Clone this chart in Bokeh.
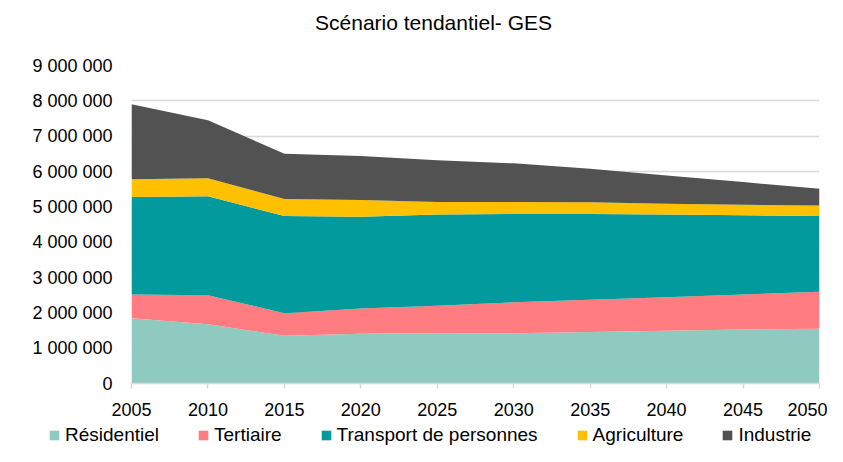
from bokeh.plotting import figure
from bokeh.layouts import column, row
from bokeh.models import ColumnDataSource, FixedTicker, Legend, LegendItem, Range1d, Label
from bokeh.embed import file_html
from bokeh.resources import INLINE

years = [2005, 2010, 2015, 2020, 2025, 2030, 2035, 2040, 2045, 2050]
residentiel = [1850000, 1680000, 1350000, 1410000, 1420000, 1420000, 1460000, 1490000, 1530000, 1550000]
tertiaire = [670000, 820000, 640000, 710000, 780000, 880000, 910000, 950000, 990000, 1050000]
transport = [2760000, 2800000, 2750000, 2600000, 2580000, 2500000, 2430000, 2340000, 2240000, 2140000]
agriculture = [500000, 510000, 480000, 470000, 360000, 340000, 330000, 310000, 300000, 300000]
industrie = [2120000, 1640000, 1280000, 1250000, 1180000, 1090000, 950000, 800000, 640000, 470000]

series_names = ["Résidentiel", "Tertiaire", "Transport de personnes", "Agriculture", "Industrie"]
colors = ["#8ECAC0", "#FF7C80", "#039A9E", "#FFC000", "#525252"]
y_ticks = [0, 1000000, 2000000, 3000000, 4000000, 5000000, 6000000, 7000000, 8000000, 9000000]
y_tick_labels = ["0", "1 000 000", "2 000 000", "3 000 000", "4 000 000", "5 000 000",
                 "6 000 000", "7 000 000", "8 000 000", "9 000 000"]
title_text = "Scénario tendantiel- GES"

FONT = "Liberation Sans"
W = 827
TITLE_H = 40
LEG_H = 22

keys = ["res", "ter", "tra", "agr", "ind"]
source = ColumnDataSource(dict(year=years, res=residentiel, ter=tertiaire, tra=transport,
                               agr=agriculture, ind=industrie))


def strip(h):
    s = figure(width=W, height=h, output_backend="svg", toolbar_location=None,
               x_range=Range1d(0, W), y_range=Range1d(0, h),
               min_border_left=0, min_border_right=0, min_border_top=0, min_border_bottom=0)
    s.axis.visible = False
    s.grid.visible = False
    s.outline_line_color = None
    s.background_fill_color = "white"
    s.border_fill_color = "white"
    return s


# title strip
pt = strip(TITLE_H)
pt.add_layout(Label(x=433, y=TITLE_H - 22, x_units="screen", y_units="screen", text=title_text,
                    text_align="center", text_baseline="middle", text_font=FONT,
                    text_font_size="21px", text_color="#000000"))

# main chart
p = figure(width=W, height=424 - TITLE_H, output_backend="svg", toolbar_location=None,
           x_range=Range1d(2005, 2050), y_range=Range1d(0, 9000000),
           min_border_left=131, min_border_right=8, min_border_top=65 - TITLE_H, min_border_bottom=41)
p.outline_line_color = None
p.background_fill_color = "white"
p.border_fill_color = "white"

renderers = p.varea_stack(stackers=keys, x="year", color=colors, source=source)

p.xaxis.ticker = FixedTicker(ticks=years)
p.xaxis.axis_line_color = "#D9D9D9"
p.xaxis.axis_line_width = 1.5
p.xaxis.major_tick_line_color = "#D9D9D9"
p.xaxis.major_tick_line_width = 1.5
p.xaxis.major_tick_out = 5
p.xaxis.major_tick_in = 0
p.xaxis.minor_tick_line_color = None
p.xaxis.major_label_text_font = FONT
p.xaxis.major_label_text_font_size = "18px"
p.xaxis.major_label_text_color = "#000000"
p.xaxis.major_label_standoff = 14

p.yaxis.ticker = FixedTicker(ticks=y_ticks)
p.yaxis.major_label_overrides = {t: l for t, l in zip(y_ticks, y_tick_labels)}
p.yaxis.axis_line_color = None
p.yaxis.major_tick_line_color = None
p.yaxis.minor_tick_line_color = None
p.yaxis.major_label_text_font = FONT
p.yaxis.major_label_text_font_size = "18px"
p.yaxis.major_label_text_color = "#000000"
p.yaxis.major_label_standoff = 13

p.xgrid.grid_line_color = None
p.ygrid.grid_line_color = "#D9D9D9"
p.ygrid.grid_line_width = 1.5
p.grid.level = "underlay"

# legend strip below the chart: same stacked data, drawn outside this strip's visible range
pl = strip(LEG_H)
pl.y_range = Range1d(-30, -8)
leg_renderers = pl.varea_stack(stackers=keys, x="year", color=colors, source=source)
legend = Legend(items=[LegendItem(label=n, renderers=[r]) for n, r in zip(series_names, leg_renderers)],
                orientation="horizontal", location=(48, 0),
                label_text_font=FONT, label_text_font_size="19px", label_text_color="#000000",
                glyph_width=12, glyph_height=12, spacing=38, label_standoff=5,
                border_line_color=None, background_fill_alpha=0, padding=0, margin=0)
pl.add_layout(legend, "center")

layout = column(row(pt), p, row(pl), spacing=0)
open("out.html", "w").write(file_html(layout, INLINE))
